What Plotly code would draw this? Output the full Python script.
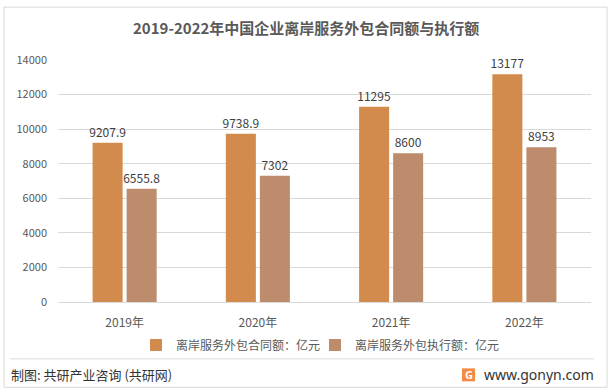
import plotly.graph_objects as go

categories = ["2019年", "2020年", "2021年", "2022年"]
contract_values = [9207.9, 9738.9, 11295, 13177]
execution_values = [6555.8, 7302, 8600, 8953]
contract_labels = ["9207.9", "9738.9", "11295", "13177"]
execution_labels = ["6555.8", "7302", "8600", "8953"]
series_names = ["离岸服务外包合同额：亿元", "离岸服务外包执行额：亿元"]
y_ticks = [0, 2000, 4000, 6000, 8000, 10000, 12000, 14000]
y_tick_labels = ["0", "2000", "4000", "6000", "8000", "10000", "12000", "14000"]

W, H = 613, 392
L, R, T, B = 58, 591, 60, 302.5
FONT = "Noto Sans CJK SC"


def px(x):
    return (x - L) / (R - L)


def py(y):
    return (B - y) / (B - T)


fig = go.Figure()
fig.add_trace(go.Bar(
    x=categories, y=contract_values, name=series_names[0], legend="legend",
    marker=dict(color="#D38B4D", line=dict(width=0)),
    text=contract_labels, textposition="outside", cliponaxis=False,
    constraintext="none",
    textfont=dict(size=12, color="#404040", family=FONT),
))
fig.add_trace(go.Bar(
    x=categories, y=execution_values, name=series_names[1], legend="legend2",
    marker=dict(color="#BC8C6C", line=dict(width=0)),
    text=execution_labels, textposition="outside", cliponaxis=False,
    constraintext="none",
    textfont=dict(size=12, color="#404040", family=FONT),
))

shapes = [
    dict(type="rect", xref="paper", yref="paper", x0=px(4), x1=px(607), y0=py(7), y1=py(388),
         line=dict(color="#D9D9D9", width=1), fillcolor="rgba(0,0,0,0)", layer="below"),
    dict(type="line", xref="paper", yref="paper", x0=px(10), x1=px(594), y0=py(359.5), y1=py(359.5),
         line=dict(color="#D9D9D9", width=1)),
    dict(type="rect", xref="paper", yref="paper", x0=px(462), x1=px(475), y0=py(369), y1=py(382),
         line=dict(width=0), fillcolor="#F38A45"),
]

annotations = [
    dict(text="<b>2019-2022年中国企业离岸服务外包合同额与执行额</b>", xref="paper", yref="paper",
         x=px(306), y=py(27), xanchor="center", yanchor="middle", showarrow=False,
         font=dict(size=15, color="#595959", family=FONT)),
    dict(text="制图: 共研产业咨询 (共研网)", xref="paper", yref="paper",
         x=px(9), y=py(375), xanchor="left", yanchor="middle", showarrow=False,
         font=dict(size=13, color="#333333", family=FONT)),
    dict(text="www.gonyn.com", xref="paper", yref="paper",
         x=px(482), y=py(375), xanchor="left", yanchor="middle", showarrow=False,
         font=dict(size=14, color="#333333", family="Noto Sans")),
    dict(text="<b>G</b>", xref="paper", yref="paper",
         x=px(468.5), y=py(375.5), xanchor="center", yanchor="middle", showarrow=False,
         font=dict(size=11, color="#FFFFFF", family="Noto Sans")),
]

legend_common = dict(orientation="h", yanchor="top",
                     font=dict(size=12, color="#595959", family=FONT),
                     bgcolor="rgba(0,0,0,0)")

fig.update_layout(
    width=W, height=H,
    margin=dict(l=L, r=W - R, t=T, b=H - B, pad=0),
    paper_bgcolor="white", plot_bgcolor="white",
    barmode="group", bargap=0.489, bargroupgap=0.118,
    font=dict(family=FONT, color="#595959"),
    showlegend=True,
    legend=dict(x=px(136), y=py(331), xanchor="left", **legend_common),
    legend2=dict(x=px(315), y=py(331), xanchor="left", **legend_common),
    xaxis=dict(showgrid=False, showline=True, linecolor="#D9D9D9", linewidth=1,
               ticks="", tickfont=dict(size=12, color="#595959", family=FONT),
               ticklabelstandoff=10, fixedrange=True),
    yaxis=dict(range=[0, 14000], tickvals=y_ticks, ticktext=y_tick_labels,
               showgrid=True, gridcolor="#D9D9D9",
               gridwidth=1, zeroline=False, showline=False, ticks="",
               tickfont=dict(size=11, color="#595959", family=FONT),
               ticklabelstandoff=10, fixedrange=True),
    shapes=shapes, annotations=annotations,
)

fig.write_html("out.html", config={"displayModeBar": False},
               post_script="document.body.style.margin='0';document.body.style.overflow='hidden';")
